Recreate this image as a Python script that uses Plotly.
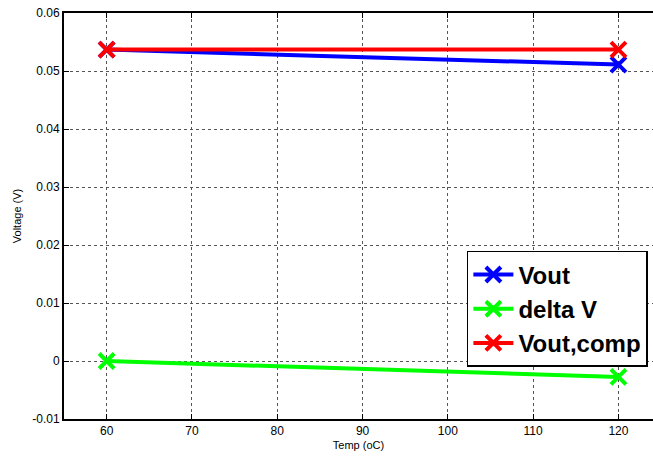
import plotly.graph_objects as go

temps = [60, 120]
vout = [0.0537, 0.0511]
delta_v = [0.0, -0.00275]
vout_comp = [0.0537, 0.0537]

series = [("Vout", vout, "#0000FF"), ("delta V", delta_v, "#00FF00"), ("Vout,comp", vout_comp, "#FF0000")]

fig = go.Figure()
for name, vals, col in series:
    fig.add_trace(go.Scatter(
        x=temps, y=vals, name=name, mode="lines+markers",
        line=dict(color=col, width=4),
        marker=dict(symbol="x-thin", size=15, line=dict(color=col, width=4), color=col),
    ))

axis_common = dict(
    showgrid=True, gridcolor="#555555", griddash="dot", gridwidth=1,
    showline=True, linecolor="black", linewidth=2,
    ticks="inside", ticklen=5, tickcolor="black",
    tickfont=dict(family="Arial, Liberation Sans", size=12, color="black"),
    zeroline=False,
)

fig.update_layout(
    width=653, height=456,
    margin=dict(l=64, r=0, t=13, b=37),
    paper_bgcolor="white", plot_bgcolor="white",
    xaxis=dict(range=[55, 55 + (653 - 64) / 8.53], tickvals=[60, 70, 80, 90, 100, 110, 120],
               mirror="ticks",
               title=dict(text="Temp (oC)", font=dict(family="Arial, Liberation Sans", size=11, color="black"), standoff=4),
               **axis_common),
    yaxis=dict(range=[-0.01, 0.06], tickvals=[-0.01, 0, 0.01, 0.02, 0.03, 0.04, 0.05, 0.06],
               ticktext=["-0.01", "0", "0.01", "0.02", "0.03", "0.04", "0.05", "0.06"],
               mirror=False,
               title=dict(text="Voltage (V)", font=dict(family="Arial, Liberation Sans", size=11, color="black"), standoff=8),
               **axis_common),
    legend=dict(x=0.684, y=0.414, xanchor="left", yanchor="top",
                bgcolor="white", bordercolor="black", borderwidth=1.5,
                font=dict(family="Arial, Liberation Sans", size=24, color="black", weight="bold"),
                tracegroupgap=0, itemwidth=40),
    showlegend=True,
)

fig.write_html("out.html")
